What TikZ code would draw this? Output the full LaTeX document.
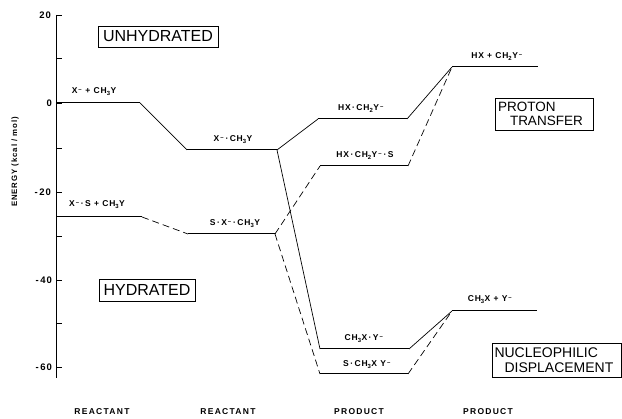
\documentclass[tikz,border=0pt]{standalone}
\usepackage{fontspec}
\setmainfont{Liberation Sans}
\newcommand{\chg}{\textsuperscript{\,--}}
\newcommand{\sub}[1]{\textsubscript{#1}}
\newcommand{\cdt}{\,·\,}
\begin{document}
\begin{tikzpicture}[x=1pt,y=-1pt,
  lvl/.style={line width=1pt},
  con/.style={line width=0.7pt},
  hcon/.style={line width=0.7pt,dash pattern=on 7pt off 4pt},
  lab/.style={font=\fontsize{8.5}{9}\selectfont\bfseries\addfontfeatures{LetterSpace=10}, inner sep=0pt, anchor=base},
  tick/.style={line width=0.8pt},
  ticklab/.style={font=\fontsize{9.5}{10}\selectfont\bfseries\addfontfeatures{LetterSpace=10}, inner sep=0pt, anchor=east},
  axlab/.style={font=\fontsize{8.5}{9}\selectfont\bfseries\addfontfeatures{LetterSpace=15}, inner sep=0pt},
  ylab/.style={font=\fontsize{7.8}{8}\selectfont\bfseries\addfontfeatures{LetterSpace=12}, inner sep=0pt},
  boxlab/.style={draw, line width=0.9pt, inner sep=2pt},
]
\useasboundingbox (0,0) rectangle (622,419);

% axis
\coordinate (ax0) at (56,15);
\coordinate (ax1) at (56,378);
\draw[line width=1pt] (ax0) -- (ax1);
\foreach \e/\y in {20/15, 10/58, 0/103, -10/148, -20/192, -30/236, -40/280, -50/323, -60/367}{
  \draw[tick] (56,\y) -- (62,\y);
}
\node[ticklab] (t20) at (51,15) {20};
\node[ticklab] (t0) at (52,103) {0};
\node[ticklab] (tm20) at (51,192) {-\,20};
\node[ticklab] (tm40) at (52,280) {-\,40};
\node[ticklab] (tm60) at (52,367) {-\,60};
\node[ylab, rotate=90] (ylab) at (15,162) {ENERGY (kcal / mol)};

% unhydrated levels
\coordinate (a1) at (56,103);  \coordinate (a2) at (140,103);
\coordinate (b1) at (187,150); \coordinate (b2) at (277,150);
\coordinate (c1) at (318,119); \coordinate (c2) at (407,119);
\coordinate (d1) at (452,67);  \coordinate (d2) at (538,67);
\coordinate (e1) at (320,349); \coordinate (e2) at (409,349);
\coordinate (f1) at (452,311); \coordinate (f2) at (537,311);
% hydrated levels
\coordinate (g1) at (56,217);  \coordinate (g2) at (142,217);
\coordinate (h1) at (188,234); \coordinate (h2) at (275,234);
\coordinate (i1) at (320,166); \coordinate (i2) at (408,166);
\coordinate (j1) at (320,374); \coordinate (j2) at (408,374);

\foreach \p in {a,b,c,d,e,f,g,h,i,j}{ \draw[lvl] (\p1) -- (\p2); }

\draw[con] (a2) -- (b1);
\draw[con] (b2) -- (c1);
\draw[con] (b2) -- (e1);
\draw[con] (c2) -- (d1);
\draw[con] (e2) -- (f1);

\draw[hcon] (g2) -- (h1);
\draw[hcon] (h2) -- (i1);
\draw[hcon] (h2) -- (j1);
\draw[hcon] (i2) -- (d1);
\draw[hcon] (j2) -- (f1);

% level labels
\node[lab] (la) at (94,94) {X\chg\ + CH\sub{3}Y};
\node[lab] (lb) at (233,142) {X\chg\cdt CH\sub{3}Y};
\node[lab] (lc) at (361,111) {HX\cdt CH\sub{2}Y\chg};
\node[lab] (ld) at (497,59) {HX + CH\sub{2}Y\chg};
\node[lab] (le) at (364,341) {CH\sub{3}X\cdt Y\chg};
\node[lab] (lf) at (490,302) {CH\sub{3}X + Y\chg};
\node[lab] (lg) at (97,207) {X\chg\cdt S + CH\sub{3}Y};
\node[lab] (lh) at (235,226) {S\cdt X\chg\cdt CH\sub{3}Y};
\node[lab] (li) at (365,158) {HX\cdt CH\sub{2}Y\chg\cdt S};
\node[lab] (lj) at (367,367) {S\cdt CH\sub{3}X Y\chg};

% boxes
\node[boxlab, minimum width=120pt, minimum height=21pt, font=\fontsize{16}{17}\selectfont] (unh) at (158,36.5) {UNHYDRATED};
\node[boxlab, minimum width=96pt, minimum height=22pt, font=\fontsize{16}{17}\selectfont] (hyd) at (147,290) {HYDRATED};
\node[boxlab, minimum width=98pt, minimum height=32pt, text width=92pt, align=left, font=\fontsize{13.5}{14}\selectfont] (pt) at (544,114) {PROTON\\\hspace*{12pt}TRANSFER};
\node[boxlab, minimum width=129pt, minimum height=34pt, text width=124pt, align=left, font=\fontsize{14}{15}\selectfont] (nd) at (556.5,360) {NUCLEOPHILIC\\\hspace*{10pt}DISPLACEMENT};

% bottom labels
\node[axlab] (r1) at (102,412) {REACTANT};
\node[axlab] (r2) at (228,412) {REACTANT};
\node[axlab] (p1) at (359,412) {PRODUCT};
\node[axlab] (p2) at (488,412) {PRODUCT};
\end{tikzpicture}
\end{document}
